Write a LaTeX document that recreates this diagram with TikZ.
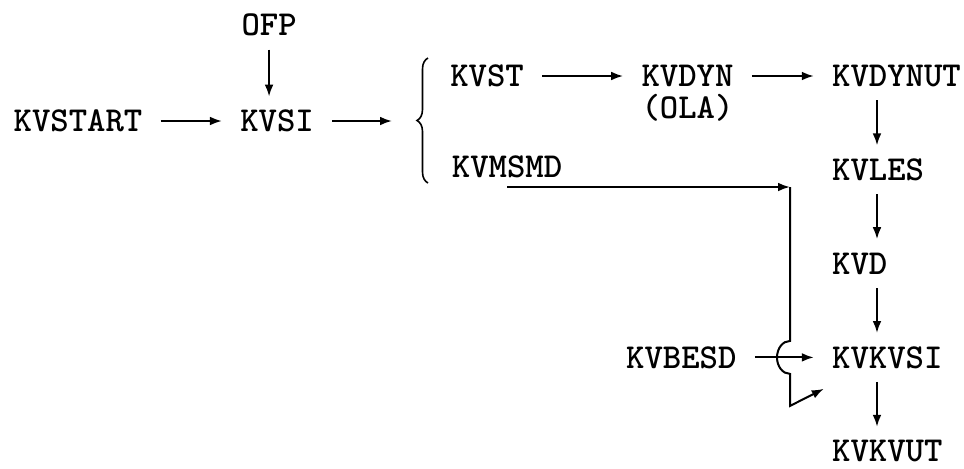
\documentclass[tikz,border=0pt]{standalone}
\usetikzlibrary{positioning, arrows.meta, calc, decorations.pathreplacing}

\begin{document}
\begin{tikzpicture}[
      x=0.5pt, y=0.5pt,
      prog/.style={font=\ttfamily\bfseries\fontsize{17.5pt}{20pt}\selectfont, inner xsep=9pt, inner ysep=6.65pt, text height=10.7pt, text depth=0pt},
      call/.style={-{Latex[length=6pt, width=4.4pt]}, line width=1pt},
      node distance=22.5pt and 30pt
    ]
      \useasboundingbox (0,0) rectangle (964,-468);

      \node[prog] (kvstart) at (78,-121) {KVSTART};
      \node[prog, right=30.6pt of kvstart] (kvsi) {KVSI};
      \node[prog, above=23.5pt of kvsi, xshift=-4pt] (ofp) {OFP};

      % the two branches behind the brace
      \coordinate (fork) at (417,-121);
      \draw[decorate, decoration={brace, amplitude=5.5pt}, line width=0.8pt] (428,-183) -- (428,-58);
      \node[prog] (kvst) at (487,-76) {KVST};
      \node[prog] (kvmsmd) at (507,-167) {KVMSMD};
      \node[prog, right=40.5pt of kvst] (kvdyn) {KVDYN};
      \node[prog] (ola) at ([yshift=-16pt]kvdyn) {(OLA)};
      \node[prog, right=31pt of kvdyn] (kvdynut) {KVDYNUT};

      % right column
      \node[prog, below=of kvdynut.south west, anchor=north west] (kvles) {KVLES};
      \node[prog, below=of kvles.south west, anchor=north west] (kvd) {KVD};
      \node[prog, below=of kvd.south west, anchor=north west] (kvkvsi) {KVKVSI};
      \node[prog, below=of kvkvsi.south west, anchor=north west] (kvkvut) {KVKVUT};
      \node[prog, left=29.5pt of kvkvsi] (kvbesd) {KVBESD};

      \draw[call] (kvstart) -- (kvsi);
      \draw[call] (ofp) -- (ofp |- kvsi.north);
      \draw[call, shorten >=12.5pt] (kvsi) -- (fork);
      \draw[call] (kvst) -- (kvdyn);
      \draw[call] (kvdyn) -- (kvdynut);

      \coordinate (spine) at (877,0);
      \draw[call] (kvdynut.south -| spine) -- (kvles.north -| spine);
      \draw[call] (kvles.south -| spine) -- (kvd.north -| spine);
      \draw[call] (kvd.south -| spine) -- (kvkvsi.north -| spine);
      \draw[call] (kvkvsi.south -| spine) -- (kvkvut.north -| spine);
      \draw[call] (kvbesd) -- (kvkvsi);

      % KVMSMD line, hopping over the KVBESD arrow
      \coordinate (corner) at (790,-187);
      \draw[call] (kvmsmd.south |- corner) -- (corner);
      \draw[call] (corner) -- ($(corner |- kvbesd)+(0,8.25pt)$)
        arc[start angle=90, end angle=270, x radius=6.5pt, y radius=8.25pt]
        -- ++(0,-32) -- ($(kvkvsi.south west)+(5pt,-3.5pt)$);
    \end{tikzpicture}
\end{document}
